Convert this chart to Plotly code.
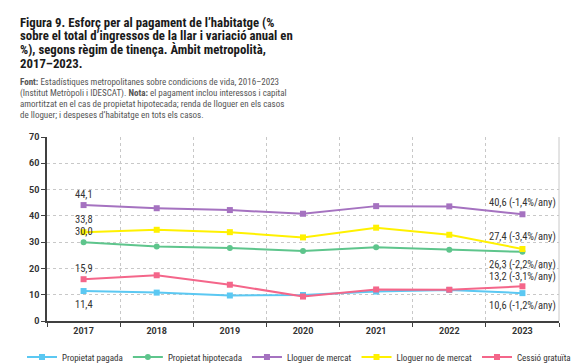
import plotly.graph_objects as go

years = ["2017", "2018", "2019", "2020", "2021", "2022", "2023"]
series_names = ["Propietat pagada", "Propietat hipotecada", "Lloguer de mercat",
                "Lloguer no de mercat", "Cessió gratuïta"]
propietat_pagada = [11.4, 10.8, 9.7, 9.9, 11.2, 11.8, 10.6]
propietat_hipotecada = [30.0, 28.3, 27.8, 26.6, 28.1, 27.1, 26.3]
lloguer_mercat = [44.1, 42.9, 42.2, 40.8, 43.7, 43.6, 40.6]
lloguer_no_mercat = [33.8, 34.7, 33.8, 31.8, 35.5, 32.8, 27.4]
cessio_gratuita = [15.9, 17.4, 13.8, 9.3, 12.0, 11.9, 13.2]
annual_variation = [-1.2, -2.2, -1.4, -3.4, -3.1]  # %/any
y_ticks = [0, 10, 20, 30, 40, 50, 60, 70]

all_values = [propietat_pagada, propietat_hipotecada, lloguer_mercat,
              lloguer_no_mercat, cessio_gratuita]
colors = ["#5BC8F2", "#5EC58C", "#A572C0", "#FFF100", "#F4668A"]
symbols = ["square", "circle", "square", "square", "square"]
# pixel shifts of the start / end labels
start_shift = [-13, 11, 11, 13, 11]
end_shift = [-12, -12.5, 12, 12, 10]

LABEL_FONT = "Liberation Sans Narrow, Roboto Condensed, Roboto, sans-serif"
TITLE_FONT = "Liberation Sans Narrow, Roboto Condensed, Roboto, sans-serif"
TEXT_COL = "#333333"


def fmt(v):
    return f"{v:.1f}".replace(".", ",")


fig = go.Figure()
for name, vals, col, sym in zip(series_names, all_values, colors, symbols):
    fig.add_trace(go.Scatter(
        x=years, y=vals, name=name, mode="lines+markers",
        line=dict(color=col, width=2),
        marker=dict(color=col, symbol=sym, size=6),
    ))

annotations = []
first_idx, last_idx = 0, len(years) - 1
for i, vals in enumerate(all_values):
    annotations.append(dict(
        x=first_idx, y=vals[0], xref="x", yref="y", text=fmt(vals[0]),
        showarrow=False, yshift=start_shift[i],
        font=dict(family=LABEL_FONT, size=10.5, color=TEXT_COL)))
    annotations.append(dict(
        x=last_idx, y=vals[-1], xref="x", yref="y",
        text=f"{fmt(vals[-1])} ({fmt(annual_variation[i])}%/any)",
        showarrow=False, yshift=end_shift[i],
        font=dict(family=LABEL_FONT, size=10.5, color=TEXT_COL)))

W, H = 587, 363
ML, MR, MT, MB = 39, 36, 129, 50
PW, PH = W - ML - MR, H - MT - MB

title_lines = ["Figura 9. Esforç per al pagament de l’habitatge (%",
               "sobre el total d’ingressos de la llar i variació anual en",
               "%), segons règim de tinença. Àmbit metropolità,",
               "2017–2023."]
for k, line in enumerate(title_lines):
    annotations.append(dict(
        x=(10 - ML) / PW, y=1 - (14 + 13.8 * k - MT) / PH, xref="paper", yref="paper",
        text=f"<b>{line}</b>",
        showarrow=False, xanchor="left", yanchor="middle",
        font=dict(family=TITLE_FONT, size=12.8, color="#1a1a1a")))

note_lines = ["<b>Font:</b> Estadístiques metropolitanes sobre condicions de vida, 2016–2023",
              "(Institut Metròpoli i IDESCAT). <b>Nota:</b> el pagament inclou interessos i capital",
              "amortitzat en el cas de propietat hipotecada; renda de lloguer en els casos",
              "de lloguer; i despeses d’habitatge en tots els casos."]
for k, line in enumerate(note_lines):
    annotations.append(dict(
        x=(10 - ML) / PW, y=1 - (74 + 11 * k - MT) / PH, xref="paper", yref="paper",
        text=line,
        showarrow=False, xanchor="left", yanchor="middle",
        font=dict(family=TITLE_FONT, size=9, color="#555555")))

fig.update_layout(
    width=W, height=H,
    margin=dict(l=ML, r=MR, t=MT, b=MB, autoexpand=False),
    paper_bgcolor="white", plot_bgcolor="white",
    showlegend=True,
    legend=dict(orientation="h", x=(14 - ML) / PW, xanchor="left", xref="paper",
                y=1 - (349 - MT) / PH, yanchor="middle", yref="paper",
                font=dict(family=LABEL_FONT, size=9, color=TEXT_COL),
                itemwidth=30, tracegroupgap=0, bgcolor="rgba(0,0,0,0)"),
    annotations=annotations,
    xaxis=dict(type="category", range=[-0.5, 6.5], tickson="boundaries",
               showgrid=True, gridcolor="#c8c8c8", griddash="dot", gridwidth=1,
               showline=True, linecolor="#404040", linewidth=1.5,
               ticks="outside", ticklen=4, tickcolor="#404040", automargin=False,
               tickfont=dict(family="Roboto, sans-serif", size=9, color=TEXT_COL, weight="bold"),
               fixedrange=True),
    yaxis=dict(range=[0, 70], tickvals=y_ticks, showgrid=True, gridcolor="#c8c8c8",
               griddash="dot", gridwidth=1, zeroline=False,
               showline=True, linecolor="#404040", linewidth=1.5,
               ticks="outside", ticklen=4, tickcolor="#404040", automargin=False,
               tickfont=dict(family="Roboto, sans-serif", size=9, color=TEXT_COL, weight="bold"),
               fixedrange=True),
    shapes=[dict(type="line", xref="paper", yref="paper", x0=1, x1=1, y0=0, y1=1,
                 line=dict(color="#c8c8c8", width=1))],
)
fig.write_html("out.html")
